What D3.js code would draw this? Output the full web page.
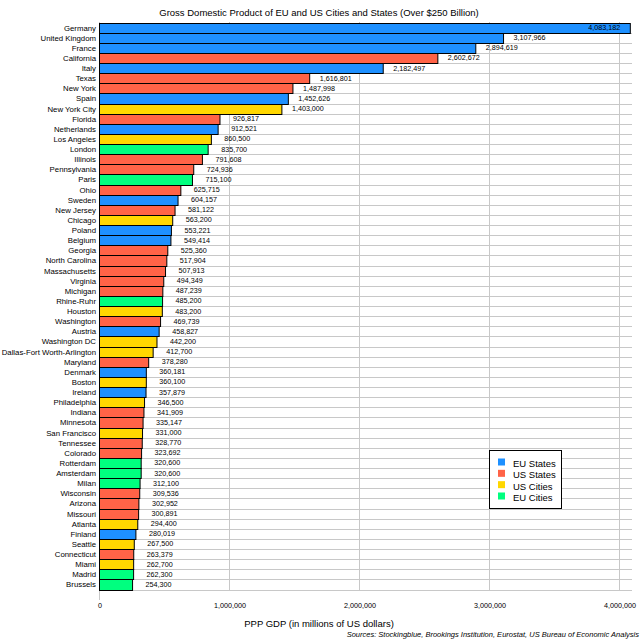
<!DOCTYPE html>
<html>
<head>
<meta charset="utf-8">
<script src="https://cdn.jsdelivr.net/npm/d3@7"></script>
<style>
  html, body { margin: 0; padding: 0; background: #fff; }
  text { font-family: "Liberation Sans", Arial, sans-serif; fill: #000; }
</style>
</head>
<body>
<div id="chart"></div>
<script>
const names = ["Germany","United Kingdom","France","California","Italy","Texas","New York","Spain","New York City","Florida","Netherlands","Los Angeles","London","Illinois","Pennsylvania","Paris","Ohio","Sweden","New Jersey","Chicago","Poland","Belgium","Georgia","North Carolina","Massachusetts","Virginia","Michigan","Rhine-Ruhr","Houston","Washington","Austria","Washington DC","Dallas-Fort Worth-Arlington","Maryland","Denmark","Boston","Ireland","Philadelphia","Indiana","Minnesota","San Francisco","Tennessee","Colorado","Rotterdam","Amsterdam","Milan","Wisconsin","Arizona","Missouri","Atlanta","Finland","Seattle","Connecticut","Miami","Madrid","Brussels"];
const values = [4083182,3107966,2894619,2602672,2182497,1616801,1487998,1452626,1403000,926817,912521,860500,835700,791608,724936,715100,625715,604157,581122,563200,553221,549414,525360,517904,507913,494349,487239,485200,483200,469739,458827,442200,412700,378280,360181,360100,357879,346500,341909,335147,331000,328770,323692,320600,320600,312100,309536,302952,300891,294400,280019,267500,263379,262700,262300,254300];
const groups = ["EUS","EUS","EUS","USS","EUS","USS","USS","EUS","USC","USS","EUS","USC","EUC","USS","USS","EUC","USS","EUS","USS","USC","EUS","EUS","USS","USS","USS","USS","USS","EUC","USC","USS","EUS","USC","USC","USS","EUS","USC","EUS","USC","USS","USS","USC","USS","USS","EUC","EUC","EUC","USS","USS","USS","USC","EUS","USC","USS","USC","EUC","EUC"];
const groupKeys = ["EUS","USS","USC","EUC"];
const groupLabels = ["EU States","US States","US Cities","EU Cities"];
const groupColors = ["#1e90ff","#ff6347","#ffd700","#00ff7f"];
const xTicks = [0,1000000,2000000,3000000,4000000];

const width = 640, height = 640;
const svg = d3.select("#chart").append("svg").attr("width",width).attr("height",height).style("display","block");

const x = d3.scaleLinear().domain([0,4000000]).range([99.5,619.5]);
const y = d3.scaleBand().domain(names).range([22.5,589.5]);
const color = d3.scaleOrdinal().domain(groupKeys).range(groupColors);
const fmt = d3.format(",");
const rows = names.map((n,i) => ({name:n, value:values[i], group:groups[i]}));
const right = 632;

// grid
svg.append("g").selectAll("line").data(xTicks).join("line")
    .attr("x1",d => Math.round(x(d))-0.5).attr("x2",d => Math.round(x(d))-0.5)
    .attr("y1",22).attr("y2",d => d == 0 ? 600 : 590)
    .attr("stroke","#c8c8c8");
svg.append("g").selectAll("line").data(names).join("line")
    .attr("x1",99).attr("x2",right)
    .attr("y1",d => Math.round(y(d)+y.bandwidth())+0.5).attr("y2",d => Math.round(y(d)+y.bandwidth())+0.5)
    .attr("stroke","#c8c8c8");

// bars
svg.append("g").selectAll("rect").data(rows).join("rect")
    .attr("x",x(0))
    .attr("y",d => Math.round(y(d.name))+0.5)
    .attr("width",d => x(d.value)-x(0))
    .attr("height",d => Math.round(y(d.name)+y.bandwidth())-Math.round(y(d.name)))
    .attr("fill",d => color(d.group))
    .attr("stroke","#000");

// value labels, centred 200,000 past the bar end (inside for the longest bar)
const labelX = d => d.value > 4000000 ? x(d.value-200000) : x(d.value+200000);
svg.append("g").selectAll("text").data(rows).join("text")
    .attr("x",labelX)
    .attr("y",d => y(d.name)+y.bandwidth()/2+2.5)
    .attr("text-anchor","middle")
    .attr("font-size",7.2)
    .text(d => fmt(d.value));

// category labels
svg.append("g").selectAll("text").data(names).join("text")
    .attr("x",96)
    .attr("y",d => y(d)+y.bandwidth()/2+3)
    .attr("text-anchor","end")
    .attr("font-size",7.8)
    .text(d => d);

// x axis
const xAxis = svg.append("g").attr("transform","translate(0,590)")
    .call(d3.axisBottom(x).tickValues(xTicks).tickFormat(fmt).tickSize(0).tickPadding(12.5));
xAxis.select(".domain").remove();
xAxis.selectAll("text").attr("font-size",7.2).attr("font-family","Liberation Sans");

svg.append("text").attr("x",319).attr("y",16).attr("text-anchor","middle").attr("font-size",9.5)
    .text("Gross Domestic Product of EU and US Cities and States (Over $250 Billion)");
svg.append("text").attr("x",319).attr("y",627).attr("text-anchor","middle").attr("font-size",9.5)
    .text("PPP GDP (in millions of US dollars)");
svg.append("text").attr("x",639).attr("y",636.5).attr("text-anchor","end").attr("font-size",7.5).attr("font-style","italic")
    .text("Sources: Stockingblue, Brookings Institution, Eurostat, US Bureau of Economic Analysis");

// legend
const legend = svg.append("g").attr("transform","translate(489.5,450.5)");
legend.append("rect").attr("width",72).attr("height",58).attr("fill","#fff").attr("stroke","#000");
const ly = d3.scalePoint().domain(groupKeys).range([11.5,45.5]);
legend.selectAll("rect.key").data(groupKeys).join("rect").attr("class","key")
    .attr("x",8.5).attr("y",d => ly(d)-3.5).attr("width",7).attr("height",7)
    .attr("fill",d => color(d));
legend.selectAll("text").data(groupKeys).join("text")
    .attr("x",23.5).attr("y",d => ly(d)+5).attr("font-size",9.5)
    .text((d,i) => groupLabels[i]);
</script>
</body>
</html>
